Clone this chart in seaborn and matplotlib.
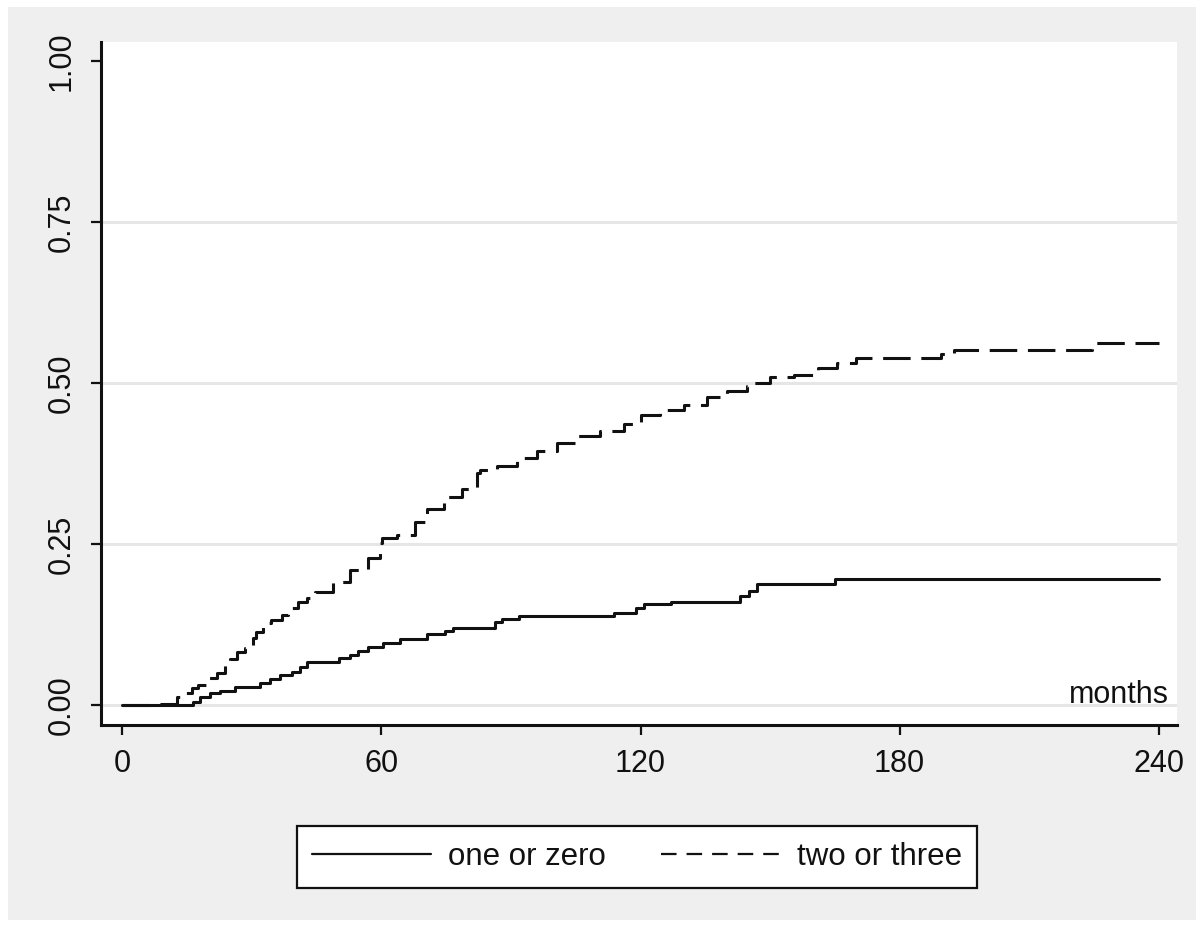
import numpy as np
import pandas as pd
import matplotlib.pyplot as plt
import seaborn as sns
from matplotlib.lines import Line2D
from matplotlib.patches import Rectangle

# cumulative incidence (step function, value from time on)
t_low = [0, 16.5, 18.1, 20.4, 22.7, 26.2, 32, 34.3, 36.6, 39.3, 41.2, 42.8,
         50.1, 52.8, 54.7, 57, 60.5, 64.4, 70.6, 74.8, 76.7, 86.4, 88, 91.8,
         113.8, 119, 120.9, 127, 143, 145, 147, 165, 240]
ci_low = [0, 0.005, 0.013, 0.019, 0.022, 0.028, 0.034, 0.040, 0.047, 0.051, 0.059, 0.067,
          0.0725, 0.078, 0.084, 0.0895, 0.097, 0.102, 0.110, 0.115, 0.120, 0.129, 0.133, 0.138,
          0.143, 0.151, 0.157, 0.160, 0.169, 0.1775, 0.188, 0.196, 0.196]

t_high = [0, 9, 12.7, 13.8, 16.1, 17.5, 19.9, 21.9, 23.9, 25, 26.5, 28.5, 30.4, 31,
          32.7, 34.5, 37, 38.5, 40.8, 42.8, 44.7, 48.9, 52.8, 57, 59.8, 60.2, 63.6,
          67.9, 70.6, 74.4, 78.7, 82.2, 82.9, 86.8, 91.4, 96, 100.7, 105.3, 110.7,
          116.1, 120, 124.6, 130, 135.4, 140, 144.7, 145.5, 150, 155.5, 161, 165.5,
          170, 189.5, 192.6, 224.6, 240]
ci_high = [0, 0.002, 0.013, 0.019, 0.026, 0.031, 0.042, 0.050, 0.062, 0.072, 0.083, 0.088, 0.104, 0.114,
           0.127, 0.132, 0.140, 0.150, 0.160, 0.166, 0.176, 0.191, 0.210, 0.228, 0.251, 0.259, 0.264,
           0.285, 0.305, 0.323, 0.336, 0.360, 0.365, 0.371, 0.383, 0.395, 0.407, 0.418, 0.426,
           0.437, 0.450, 0.459, 0.466, 0.478, 0.488, 0.496, 0.500, 0.509, 0.513, 0.523, 0.531,
           0.539, 0.545, 0.552, 0.562, 0.562]

labels = ["one or zero", "two or three"]
x_ticks = [0, 60, 120, 180, 240]
y_ticks = [0, 0.25, 0.5, 0.75, 1.0]
y_ticklabels = ["0.00", "0.25", "0.50", "0.75", "1.00"]

sns.set_style("ticks")
plt.rcParams['font.family'] = ['Liberation Sans', 'DejaVu Sans']

fig = plt.figure(figsize=(12.04, 9.27), dpi=100, facecolor="white")
# grey background panel (stata-like graph region)
fig.patches.append(Rectangle((8 / 1204, 7 / 927), 1188 / 1204, 913 / 927,
                             transform=fig.transFigure, facecolor="#efefef",
                             edgecolor="none", zorder=-5))
ax = fig.add_axes([101 / 1204, 1 - 725 / 927, 1076 / 1204, 683 / 927])
ax.set_facecolor("white")

df_low = pd.DataFrame({"months": t_low, "ci": ci_low})
df_high = pd.DataFrame({"months": t_high, "ci": ci_high})

sns.lineplot(data=df_low, x="months", y="ci", ax=ax, color="#111111",
             linewidth=2.2, drawstyle="steps-post", zorder=3)
sns.lineplot(data=df_high, x="months", y="ci", ax=ax, color="#111111",
             linewidth=2.2, drawstyle="steps-post", linestyle=(0, (9, 3.5)), zorder=3)

ax.set_xlim(-4.9, 244.2)
ax.set_ylim(-0.031, 1.03)
ax.set_xticks(x_ticks)
ax.set_xticklabels([str(v) for v in x_ticks])
ax.set_yticks(y_ticks)
ax.set_yticklabels(y_ticklabels, rotation=90, va="center")
ax.set_xlabel("")
ax.set_ylabel("")

ax.grid(axis="y", color="#e6e6e6", linewidth=2.2)
ax.get_ygridlines()[-1].set_visible(False)
ax.set_axisbelow(True)

for side in ["top", "right"]:
    ax.spines[side].set_visible(False)
for side in ["left", "bottom"]:
    ax.spines[side].set_linewidth(2.2)
    ax.spines[side].set_color("#111111")
ax.tick_params(axis="both", length=7.5, width=1.6, color="#111111",
               labelsize=22, pad=10, labelcolor="#111111")

ax.text(0.9926, 0.032, "months", transform=ax.transAxes, ha="right",
        va="baseline", fontsize=22, color="#111111")

handles = [Line2D([], [], color="#111111", linewidth=1.6),
           Line2D([], [], color="#111111", linewidth=1.6, linestyle=(0, (7, 4.5)))]
leg = fig.legend(handles, labels, loc="center", bbox_to_anchor=(0.529, 0.0755),
                 ncol=2, frameon=True, fancybox=False, framealpha=1,
                 edgecolor="#111111", facecolor="white", fontsize=22.5,
                 handlelength=3.8, handletextpad=0.55, columnspacing=1.75,
                 borderpad=0.5)
for txt in leg.get_texts():
    txt.set_color("#111111")
leg.get_frame().set_linewidth(1.6)

plt.savefig("out.png", dpi=100, facecolor=fig.get_facecolor())
plt.close()
